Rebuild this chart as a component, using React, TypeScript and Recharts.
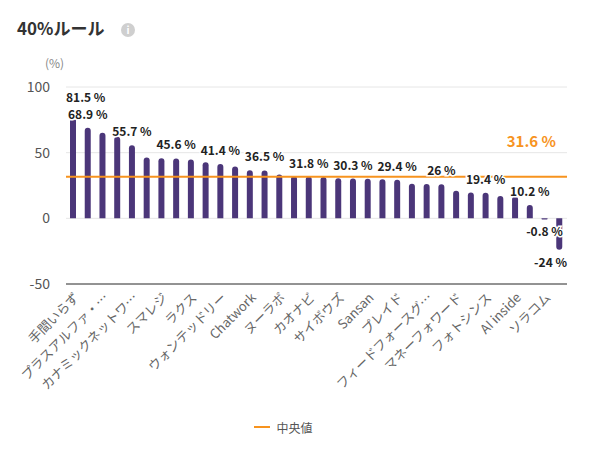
import { Bar, BarChart, CartesianGrid, Legend, ReferenceLine, XAxis, YAxis } from 'recharts'

const companies = [
  '手間いらず', '', 'プラスアルファ・…', '', 'カナミックネットワ…', '', 'スマレジ', '', 'ラクス', '',
  'ウォンテッドリー', '', 'Chatwork', '', 'ヌーラボ', '', 'カオナビ', '', 'サイボウズ', '',
  'Sansan', '', 'プレイド', '', 'フィードフォースグ…', '', 'マネーフォワード', '', 'フォトシンス', '',
  'AI inside', '', 'ソラコム', '',
]

const rule40 = [
  81.5, 68.9, 65.2, 62.1, 55.7, 46.3, 45.8, 45.6, 44.8, 42.7,
  41.4, 39.4, 36.7, 36.5, 33.3, 32.2, 31.8, 31.4, 30.6, 30.3,
  30.1, 29.8, 29.4, 26.3, 26.2, 26, 21, 19.6, 19.4, 17.1,
  16.6, 10.2, -0.8, -24,
]

// bars whose value label survives in the picture
const labeledIndex = [0, 1, 4, 7, 10, 13, 16, 19, 22, 25, 28, 31, 32, 33]

const median = 31.6
const yTicks = [-50, 0, 50, 100]

const data = companies.map((name, i) => ({ name, value: rule40[i] }))

const FONT = '"Noto Sans CJK JP", "Noto Sans", sans-serif'
const PLOT_LEFT = 66
const PLOT_RIGHT = 567

let ctx: CanvasRenderingContext2D | null = null
function textWidth(s: string, font: string) {
  if (!ctx) ctx = document.createElement('canvas').getContext('2d')
  if (!ctx) return s.length * 7
  ctx.font = font
  return ctx.measureText(s).width
}

function ValueLabel(props: any) {
  const { index, value } = props
  if (!labeledIndex.includes(index)) return null
  const x = Number(props.x)
  const y = Number(props.y)
  const w = Number(props.width)
  const h = Number(props.height)
  const top = Math.min(y, y + h)
  const bottom = Math.max(y, y + h)
  const text = `${value} %`
  const tw = textWidth(text, `bold 12px ${FONT}`)
  let cx = x + w / 2
  if (cx - tw / 2 < PLOT_LEFT) cx = PLOT_LEFT + tw / 2
  if (cx + tw / 2 > PLOT_RIGHT) cx = PLOT_RIGHT - tw / 2
  const ty = value >= 0 ? top - 9 : bottom + 17
  return (
    <text
      x={cx}
      y={ty}
      textAnchor='middle'
      fontSize={12}
      fontWeight='bold'
      fill='#222'
      stroke='#fff'
      strokeWidth={3}
      paintOrder='stroke'
      fontFamily={FONT}
    >
      {text}
    </text>
  )
}

function MedianLabel(props: any) {
  const vb = props.viewBox || {}
  return (
    <text
      x={vb.x + vb.width - 11}
      y={vb.y - 30}
      textAnchor='end'
      fontSize={15}
      fontWeight='bold'
      fill='#f7931e'
      fontFamily={FONT}
    >
      {`${median} %`}
    </text>
  )
}

function MedianLegend() {
  return (
    <div style={{ display: 'flex', justifyContent: 'center', alignItems: 'center', height: 20, fontFamily: FONT }}>
      <span style={{ display: 'inline-block', width: 16, height: 2, background: '#f7931e', marginRight: 6 }} />
      <span style={{ fontSize: 12, color: '#555' }}>中央値</span>
    </div>
  )
}

export default function App() {
  return (
    <div style={{ position: 'absolute', left: 0, top: 0, width: 595, height: 469, background: '#fff', fontFamily: FONT }}>
      <div style={{ position: 'absolute', left: 17, top: 16, fontSize: 17, fontWeight: 'bold', color: '#333', lineHeight: '24px' }}>
        40%ルール
      </div>
      <div
        style={{
          position: 'absolute', left: 121, top: 23, width: 14, height: 14, borderRadius: 7,
          background: '#cfcfcf', color: '#fff', fontSize: 10, fontWeight: 'bold', textAlign: 'center', lineHeight: '14px',
        }}
      >
        i
      </div>
      <div style={{ position: 'absolute', left: 45, top: 54, fontSize: 12, color: '#888' }}>(%)</div>
      <BarChart
        width={595}
        height={469}
        data={data}
        margin={{ top: 87, right: 28, left: 0, bottom: 32 }}
        style={{ position: 'absolute', left: 0, top: 0 }}
      >
        <CartesianGrid vertical={false} stroke='#e6e6e6' />
        <XAxis
          dataKey='name'
          interval={1}
          height={133}
          angle={-45}
          textAnchor='end'
          tickLine={false}
          axisLine={{ stroke: '#333' }}
          tick={{ fontSize: 13, fill: '#666', fontFamily: FONT }}
        />
        <YAxis
          width={66}
          domain={[-50, 100]}
          ticks={yTicks}
          tickLine={false}
          axisLine={false}
          tickMargin={10}
          tick={{ fontSize: 14, fill: '#555', fontFamily: FONT }}
        />
        <Legend verticalAlign='bottom' content={MedianLegend} />
        <Bar dataKey='value' fill='#4b3679' barSize={6} radius={[3, 3, 0, 0]} isAnimationActive={false} label={ValueLabel} />
        <ReferenceLine y={median} stroke='#f7931e' strokeWidth={2} label={MedianLabel} />
      </BarChart>
    </div>
  )
}
